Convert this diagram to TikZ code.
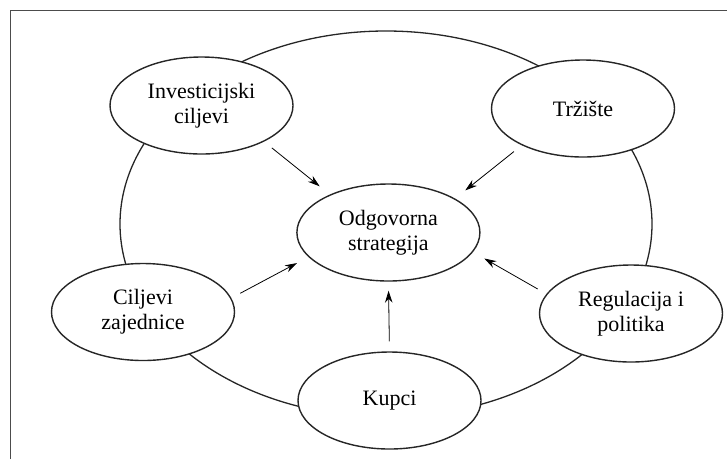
\documentclass[tikz,border=0pt]{standalone}
\usepackage{fontspec}
\setmainfont{Liberation Serif}
\usetikzlibrary{shapes.geometric,arrows.meta}

\begin{document}
\begin{tikzpicture}[x=1pt,y=-1pt,
                factor/.style={
                    draw=black!85,
                    line width=1.4pt,
                    fill=white,
                    ellipse,
                    minimum width=183pt,
                    minimum height=97pt,
                    inner sep=0pt,
                    align=center,
                    font=\fontsize{22}{25}\selectfont
                },
                arrow/.style={
                    -{Stealth[length=12pt,width=7.5pt]},
                    line width=0.8pt,
                    shorten <=10pt,
                    shorten >=13pt
                }
            ]
                \useasboundingbox (0,0) rectangle (727,459);

                % frame and outer ring
                \draw[black!70, line width=1.8pt] (10.5,459) -- (10.5,10.5) -- (727,10.5);
                \draw[black!85, line width=1.3pt] (386,224) ellipse [x radius=266, y radius=193];

                \node[factor] (invest)     at (201.5,105.5) {Investicijski\\ciljevi};
                \node[factor] (market)     at (583,108.5)   {Tržište};
                \node[factor] (center)     at (388.4,232.5) {Odgovorna\\strategija};
                \node[factor] (community)  at (143,312)     {Ciljevi\\zajednice};
                \node[factor] (regulation) at (631,313.5)   {Regulacija i\\politika};
                \node[factor] (buyers)     at (389.5,400.5) {Kupci};

                \draw[arrow] (invest.-30) -- (center.147);
                \draw[arrow] (market.211) -- (center.27);
                \draw[arrow] (community.9) -- (center.197);
                \draw[arrow] (regulation.167) -- (center.-13);
                \draw[arrow, shorten >=9pt] (buyers.north) -- (center.south);
        \end{tikzpicture}
\end{document}
